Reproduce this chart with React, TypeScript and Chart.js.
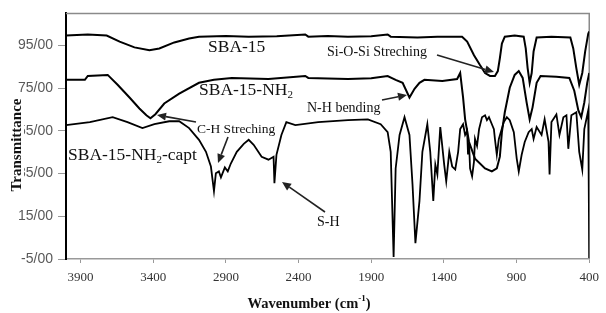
import React, { useEffect, useRef } from 'react';
import { Chart, registerables } from 'chart.js';

Chart.register(...registerables);

// ---------- data (wavenumber cm-1, transmittance %) ----------
const sba15Wn = [4000, 3850, 3720, 3631, 3529, 3426, 3358, 3255, 3153, 3085, 2900, 2743, 2550, 2354, 2333, 2200, 2060, 1900, 1787, 1766, 1582, 1445, 1275, 1240, 1193, 1152, 1117, 1083, 1049, 1029, 1015, 1001, 981, 913, 851, 837, 824, 810, 796, 783, 762, 660, 530, 510, 489, 469, 448, 428, 407, 400];
const sba15T = [99.6, 100.1, 99.6, 96.8, 94.1, 92.7, 93.6, 96.4, 98.2, 99.1, 99.4, 99.1, 99.3, 100.1, 99.1, 99.4, 99.1, 99.3, 100.1, 99.1, 98.7, 99.1, 99.1, 96.8, 90.4, 85.8, 82.1, 80.7, 80.7, 83.0, 89.0, 95.9, 99.1, 99.6, 99.1, 93.6, 84.4, 77.5, 82.1, 92.2, 98.7, 99.1, 98.7, 93.6, 84.4, 76.6, 82.1, 92.2, 100.5, 101.5];

const nh2Wn = [4000, 3870, 3850, 3713, 3645, 3563, 3495, 3447, 3419, 3385, 3324, 3221, 3085, 2982, 2859, 2607, 2354, 2333, 2200, 2060, 1900, 1787, 1732, 1684, 1637, 1602, 1568, 1534, 1411, 1309, 1288, 1268, 1254, 1227, 1186, 1117, 1070, 1036, 1015, 1001, 981, 947, 913, 885, 858, 831, 810, 790, 762, 735, 626, 537, 503, 475, 455, 434, 414, 400];
const nh2T = [78.9, 78.9, 80.7, 81.2, 76.6, 70.6, 65.5, 62.3, 60.9, 62.8, 67.8, 72.4, 77.5, 78.9, 79.8, 79.3, 80.7, 79.8, 79.5, 79.3, 79.6, 80.7, 78.9, 77.5, 70.6, 74.7, 77.5, 78.9, 78.4, 79.3, 82.1, 70.6, 60.4, 49.8, 42.0, 37.4, 36.0, 37.4, 42.9, 54.4, 63.7, 75.2, 81.2, 83.0, 79.8, 68.3, 60.4, 66.0, 77.5, 80.7, 80.3, 79.8, 73.8, 64.6, 61.4, 68.3, 77.5, 82.1];

const captWn = [4000, 3836, 3679, 3577, 3474, 3392, 3290, 3221, 3153, 3085, 3037, 3003, 2982, 2969, 2948, 2934, 2907, 2887, 2866, 2825, 2777, 2743, 2709, 2654, 2607, 2572, 2566, 2552, 2518, 2484, 2422, 2265, 2060, 1923, 1835, 1787, 1766, 1746, 1732, 1705, 1671, 1637, 1616, 1596, 1568, 1548, 1514, 1494, 1473, 1459, 1445, 1425, 1398, 1384, 1363, 1343, 1322, 1302, 1288, 1268, 1254, 1240, 1234, 1227, 1220, 1206, 1193, 1186, 1172, 1158, 1138, 1117, 1104, 1090, 1070, 1056, 1049, 1036, 1022, 988, 967, 947, 919, 899, 885, 865, 844, 817, 796, 783, 762, 728, 707, 680, 673, 660, 626, 605, 578, 557, 544, 523, 489, 469, 448, 434, 407, 400];
const captT = [57.7, 59.1, 61.4, 59.1, 56.3, 58.1, 59.5, 59.5, 56.3, 50.8, 45.2, 38.3, 26.8, 35.1, 36.0, 33.2, 37.9, 36.0, 39.7, 45.2, 48.9, 50.8, 48.5, 42.9, 41.5, 42.9, 30.5, 43.8, 53.1, 59.1, 57.7, 59.1, 60.0, 60.4, 58.1, 54.4, 45.2, -4.1, 37.4, 53.1, 61.4, 53.1, 30.0, 2.4, 22.2, 45.2, 58.1, 45.2, 22.2, 39.2, 34.6, 56.8, 39.2, 31.4, 45.2, 38.3, 36.9, 45.2, 55.8, 58.1, 53.1, 55.0, 44.0, 49.5, 37.4, 33.7, 40.6, 51.2, 48.0, 55.8, 61.4, 62.3, 60.0, 61.4, 58.1, 55.8, 51.2, 43.8, 51.2, 59.1, 61.4, 60.0, 54.4, 42.0, 36.0, 43.8, 49.8, 54.4, 55.8, 51.2, 56.8, 53.1, 60.4, 49.8, 34.6, 59.1, 62.7, 53.1, 61.4, 62.3, 46.6, 62.3, 63.7, 45.2, 36.9, 55.8, 64.6, -4.5];

const xTickValues = [3900, 3400, 2900, 2400, 1900, 1400, 900, 400];
const yTickValues = [-5, 15, 35, 55, 75, 95];

// ---------- styling ----------
const SERIF = '"Liberation Serif", "Times New Roman", serif';
const SANS = '"Liberation Sans", Arial, sans-serif';

type Part = { t: string; size: number; dy?: number; bold?: boolean };

function drawRich(ctx: CanvasRenderingContext2D, parts: Part[], x: number, y: number, align: 'left' | 'center' = 'left') {
  ctx.textBaseline = 'middle';
  ctx.textAlign = 'left';
  let total = 0;
  for (const p of parts) {
    ctx.font = `${p.bold ? 'bold ' : ''}${p.size}px ${SERIF}`;
    total += ctx.measureText(p.t).width;
  }
  let cx = align === 'center' ? x - total / 2 : x;
  for (const p of parts) {
    ctx.font = `${p.bold ? 'bold ' : ''}${p.size}px ${SERIF}`;
    ctx.fillText(p.t, cx, y + (p.dy || 0));
    cx += ctx.measureText(p.t).width;
  }
}

function arrow(ctx: CanvasRenderingContext2D, x1: number, y1: number, x2: number, y2: number) {
  const ang = Math.atan2(y2 - y1, x2 - x1);
  const hl = 9, hw = 4;
  const bx = x2 - hl * Math.cos(ang);
  const by = y2 - hl * Math.sin(ang);
  ctx.beginPath();
  ctx.moveTo(x1, y1);
  ctx.lineTo(bx, by);
  ctx.stroke();
  ctx.beginPath();
  ctx.moveTo(x2, y2);
  ctx.lineTo(bx + hw * Math.sin(ang), by - hw * Math.cos(ang));
  ctx.lineTo(bx - hw * Math.sin(ang), by + hw * Math.cos(ang));
  ctx.closePath();
  ctx.fill();
}

const decor = {
  id: 'decor',
  beforeDatasetsDraw(chart: any) {
    const { ctx, chartArea: a } = chart;
    ctx.save();
    ctx.strokeStyle = '#8a8a8a';
    ctx.lineWidth = 1.5;
    ctx.beginPath();
    ctx.moveTo(a.left, a.top);
    ctx.lineTo(a.right, a.top);
    ctx.lineTo(a.right, a.bottom);
    ctx.stroke();
    ctx.restore();
  },
  afterDraw(chart: any) {
    const ctx: CanvasRenderingContext2D = chart.ctx;
    ctx.save();
    ctx.fillStyle = '#111';
    // series names
    drawRich(ctx, [{ t: 'SBA-15', size: 17.5 }], 208, 47);
    drawRich(ctx, [{ t: 'SBA-15-NH', size: 17.5 }, { t: '2', size: 11, dy: 5 }], 199, 90);
    drawRich(ctx, [{ t: 'SBA-15-NH', size: 17.5 }, { t: '2', size: 11, dy: 5 }, { t: '-capt', size: 17.5 }], 68, 155);
    // annotations
    drawRich(ctx, [{ t: 'Si-O-Si Streching', size: 14 }], 327, 52);
    drawRich(ctx, [{ t: 'N-H bending', size: 14 }], 307, 108);
    drawRich(ctx, [{ t: 'C-H Streching', size: 13.5 }], 197, 129);
    drawRich(ctx, [{ t: 'S-H', size: 14 }], 317, 222);
    ctx.strokeStyle = '#222';
    ctx.fillStyle = '#222';
    ctx.lineWidth = 1.6;
    arrow(ctx, 437, 55, 494, 72);
    arrow(ctx, 382, 100, 407, 95);
    arrow(ctx, 196, 122, 157, 115);
    arrow(ctx, 228, 137, 218, 163);
    arrow(ctx, 325, 212, 282, 182);
    // y title
    ctx.fillStyle = '#fff';
    ctx.fillRect(9, 95, 15, 101);
    ctx.fillStyle = '#111';
    ctx.translate(17, 145);
    ctx.rotate(-Math.PI / 2);
    ctx.textAlign = 'center';
    ctx.textBaseline = 'middle';
    ctx.font = `bold 15px ${SERIF}`;
    ctx.fillText('Transmittance', 0, 0);
    ctx.setTransform(1, 0, 0, 1, 0, 0);
    // x title
    ctx.fillStyle = '#111';
    drawRich(ctx, [
      { t: 'Wavenumber (cm', size: 14.5, bold: true },
      { t: '-1', size: 9, dy: -5, bold: true },
      { t: ')', size: 14.5, bold: true },
    ], 309, 304, 'center');
    ctx.restore();
  },
};

function pts(wn: number[], t: number[]) {
  return wn.map((x, i) => ({ x, y: t[i] }));
}

export default function App() {
  const ref = useRef<HTMLCanvasElement | null>(null);
  useEffect(() => {
    if (!ref.current) return;
    const ds = (label: string, wn: number[], t: number[], w: number) => ({
      label,
      data: pts(wn, t),
      showLine: true,
      borderColor: '#000',
      backgroundColor: '#000',
      borderWidth: w,
      pointRadius: 0,
      tension: 0,
      fill: false,
    });
    const chart = new Chart(ref.current, {
      type: 'scatter',
      data: {
        datasets: [
          ds('SBA-15', sba15Wn, sba15T, 2),
          ds('SBA-15-NH2', nh2Wn, nh2T, 2),
          ds('SBA-15-NH2-capt', captWn, captT, 1.8),
        ],
      },
      options: {
        responsive: false,
        animation: false,
        devicePixelRatio: 1,
        layout: { padding: { left: 0, right: 13, top: 10, bottom: 0 } },
        plugins: { legend: { display: false }, tooltip: { enabled: false } },
        scales: {
          x: {
            type: 'linear',
            min: 400,
            max: 4000,
            reverse: true,
            afterFit: (s: any) => { s.height = 54; },
            afterBuildTicks: (s: any) => { s.ticks = xTickValues.map((v) => ({ value: v })); },
            grid: { drawOnChartArea: false, drawTicks: true, tickLength: 4, color: '#999' },
            border: { color: '#999', width: 1.5 },
            ticks: {
              autoSkip: false,
              maxRotation: 0,
              padding: 7,
              color: '#333',
              font: { family: SERIF, size: 13 },
              callback: (v: any) => String(v),
            },
          },
          y: {
            type: 'linear',
            min: -5,
            max: 110,
            afterFit: (s: any) => { s.width = 66; },
            afterBuildTicks: (s: any) => { s.ticks = yTickValues.map((v) => ({ value: v })); },
            grid: { drawOnChartArea: false, drawTicks: true, tickLength: 8, color: '#999' },
            border: { color: '#000', width: 2 },
            ticks: {
              padding: 5,
              color: '#595959',
              font: { family: SANS, size: 14 },
              callback: (v: any) => `${v}/00`,
            },
          },
        },
      },
      plugins: [decor],
    });
    return () => chart.destroy();
  }, []);
  return (
    <div style={{ position: 'absolute', left: 0, top: 0, width: 606, height: 313, background: '#fff' }}>
      <canvas ref={ref} width={606} height={313} style={{ width: 606, height: 313, display: 'block' }} />
    </div>
  );
}
